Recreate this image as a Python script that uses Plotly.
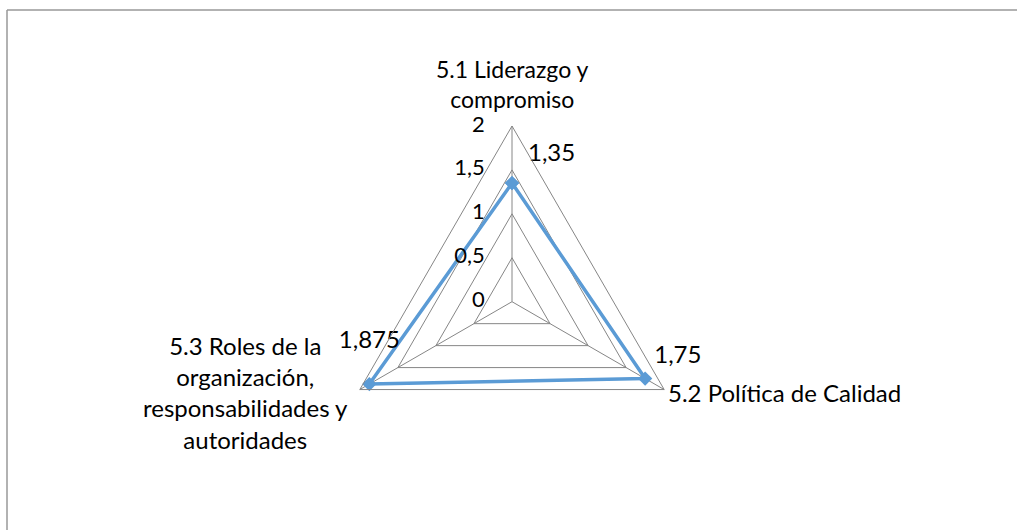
import plotly.graph_objects as go

categories = ["5.1", "5.2", "5.3"]
category_labels = [
    "5.1 Liderazgo y<br>compromiso",
    "5.2 Política de Calidad",
    "5.3 Roles de la<br>organización,<br>responsabilidades y<br>autoridades",
]
values = [1.35, 1.75, 1.875]
value_labels = ["1,35", "1,75", "1,875"]
radial_ticks = [0, 0.5, 1, 1.5, 2]
radial_ticktext = ["0", "0,5", "1", "1,5", "2"]

W, H = 1017, 530
cx, cy, R = 512, 301.7, 175.7
FONT = "Lato"
FS = 24

fig = go.Figure()
# data series
fig.add_trace(go.Scatterpolar(
    r=values + values[:1],
    theta=categories + categories[:1],
    mode="lines+markers",
    line=dict(color="#5B9BD5", width=3.5),
    marker=dict(symbol="diamond", size=11, color="#5B9BD5"),
    cliponaxis=False,
    showlegend=False,
    hoverinfo="skip",
))
# data labels (invisible markers used only to offset the text)
fig.add_trace(go.Scatterpolar(
    r=values,
    theta=categories,
    mode="markers+text",
    text=value_labels,
    textposition=["top right", "top right", "top center"],
    textfont=dict(size=FS, color="#000000", family=FONT),
    marker=dict(size=[24, 13, 46], opacity=0),
    cliponaxis=False,
    showlegend=False,
    hoverinfo="skip",
))
# radial tick labels, on an invisible circular overlay so the centre label is kept
fig.add_trace(go.Scatterpolar(
    r=radial_ticks,
    theta=[categories[0]] * len(radial_ticks),
    mode="markers+text",
    text=radial_ticktext,
    textposition="middle left",
    textfont=dict(size=22, color="#000000", family=FONT),
    marker=dict(size=42, opacity=0),
    cliponaxis=False,
    showlegend=False,
    hoverinfo="skip",
    subplot="polar2",
))

annotations = [
    dict(text=category_labels[0], xref="paper", yref="paper",
         x=cx / W, y=1 - 115 / H, xanchor="center", yanchor="bottom",
         align="center", showarrow=False, font=dict(size=23)),
    dict(text=category_labels[1], xref="paper", yref="paper",
         x=666 / W, y=1 - 392 / H, xanchor="left", yanchor="middle",
         align="left", showarrow=False),
    dict(text=category_labels[2], xref="paper", yref="paper",
         x=350 / W, y=1 - 392 / H, xanchor="right", yanchor="middle",
         align="center", showarrow=False),
]

domain = dict(x=[(cx - R) / W, (cx + R) / W],
              y=[(H - cy - R) / H, (H - cy + R) / H])

fig.update_layout(
    width=W, height=H,
    margin=dict(l=0, r=0, t=0, b=0),
    paper_bgcolor="white",
    separators=",.",
    font=dict(family=FONT, size=FS, color="#000000"),
    annotations=annotations,
    polar=dict(
        domain=domain,
        bgcolor="rgba(0,0,0,0)",
        gridshape="linear",
        radialaxis=dict(
            range=[0, 2],
            tickvals=radial_ticks,
            showticklabels=False,
            angle=90,
            showline=False,
            ticks="",
            gridcolor="#868686",
            gridwidth=1,
        ),
        angularaxis=dict(
            rotation=90,
            direction="clockwise",
            categoryorder="array",
            categoryarray=categories,
            showline=True,
            linecolor="#868686",
            linewidth=1,
            gridcolor="#868686",
            gridwidth=1,
            ticks="",
            showticklabels=False,
        ),
    ),
    polar2=dict(
        domain=domain,
        bgcolor="rgba(0,0,0,0)",
        radialaxis=dict(
            range=[0, 2],
            showticklabels=False,
            showgrid=False,
            showline=False,
            ticks="",
        ),
        angularaxis=dict(
            rotation=90,
            direction="clockwise",
            categoryorder="array",
            categoryarray=categories,
            showticklabels=False,
            showgrid=False,
            showline=False,
            ticks="",
        ),
    ),
    shapes=[
        dict(type="line", xref="paper", yref="paper",
             x0=7 / W, x1=1.01, y0=1 - 10 / H, y1=1 - 10 / H,
             line=dict(color="#999999", width=1.5)),
        dict(type="line", xref="paper", yref="paper",
             x0=7 / W, x1=7 / W, y0=1 - 10 / H, y1=-0.01,
             line=dict(color="#999999", width=1.5)),
    ],
)

fig.write_html("out.html")
